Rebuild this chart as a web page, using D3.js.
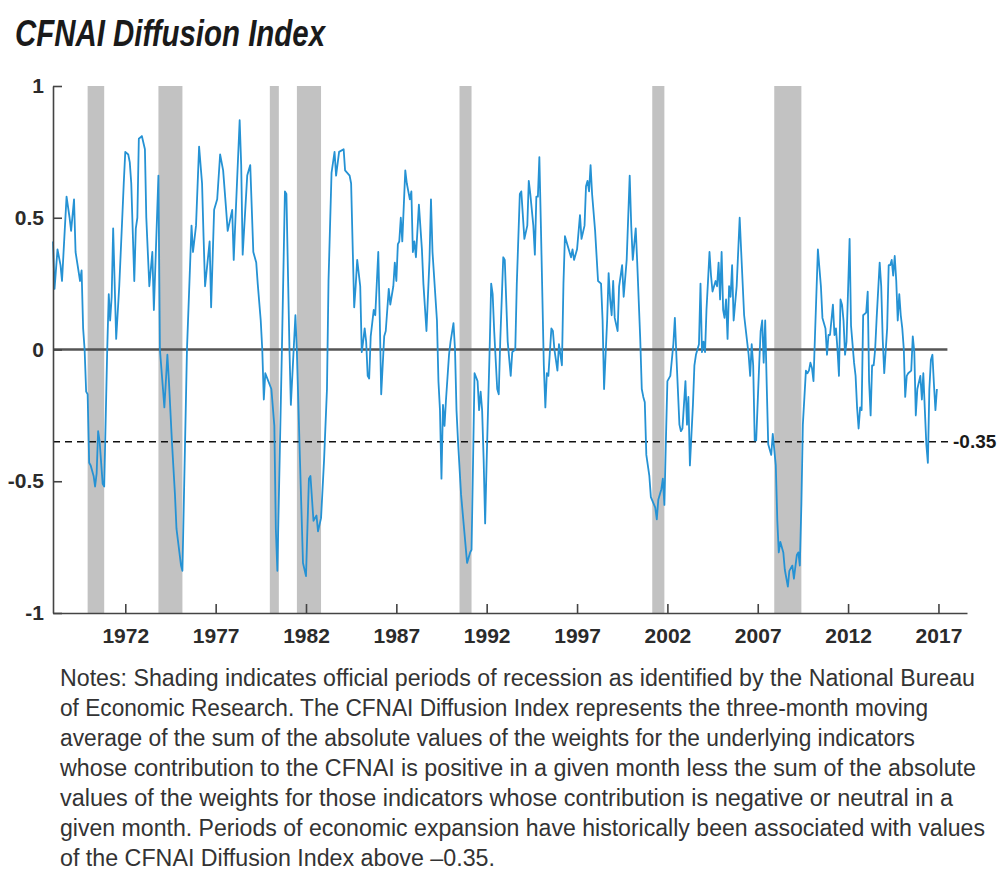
<!DOCTYPE html>
<html>
<head>
<meta charset="utf-8">
<script src="https://cdn.jsdelivr.net/npm/d3@7"></script>
<style>
  body { margin: 0; background: #fff; }
  svg { display: block; }
  .tick text { font-family: "Liberation Sans", Arial, sans-serif; font-weight: bold; font-size: 21px; fill: #2b2b2b; }
</style>
</head>
<body>
<div id="chart"></div>
<script>
// monthly readings of the diffusion index
var months = [
  "1968-01","1968-02","1968-04","1968-06","1968-07","1968-10","1968-12","1969-01","1969-03","1969-04",
  "1969-07","1969-08","1969-09","1969-10","1969-11","1969-12","1970-01","1970-02","1970-04","1970-05",
  "1970-06","1970-07","1970-08","1970-10","1970-11","1971-01","1971-02","1971-03","1971-04","1971-05",
  "1971-07","1971-09","1971-11","1971-12","1972-01","1972-03","1972-04","1972-05","1972-07","1972-08",
  "1972-09","1972-10","1972-12","1973-02","1973-03","1973-05","1973-07","1973-08","1973-11","1973-12",
  "1974-02","1974-03","1974-05","1974-06","1974-08","1974-10","1974-11","1975-02","1975-03","1975-06",
  "1975-09","1975-10","1975-12","1976-02","1976-04","1976-05","1976-06","1976-09","1976-10","1976-12",
  "1977-02","1977-04","1977-06","1977-08","1977-09","1977-12","1978-01","1978-05","1978-06","1978-07",
  "1978-10","1978-12","1979-02","1979-04","1979-05","1979-07","1979-08","1979-09","1979-10","1979-12",
  "1980-02","1980-04","1980-05","1980-06","1980-09","1980-11","1980-12","1981-02","1981-03","1981-06",
  "1981-07","1981-09","1981-11","1982-01","1982-03","1982-04","1982-06","1982-08","1982-09","1982-11",
  "1983-01","1983-03","1983-04","1983-06","1983-08","1983-09","1983-11","1984-02","1984-03","1984-06",
  "1984-07","1984-09","1984-10","1984-11","1985-01","1985-02","1985-03","1985-04","1985-05","1985-06",
  "1985-07","1985-08","1985-10","1985-11","1986-01","1986-02","1986-03","1986-05","1986-06","1986-08",
  "1986-09","1986-11","1986-12","1987-01","1987-02","1987-03","1987-04","1987-05","1987-07","1987-08",
  "1987-10","1987-11","1987-12","1988-01","1988-02","1988-04","1988-06","1988-07","1988-09","1988-11",
  "1988-12","1989-01","1989-04","1989-05","1989-06","1989-07","1989-08","1989-09","1989-10","1989-12",
  "1990-01","1990-03","1990-04","1990-05","1990-06","1990-08","1990-10","1990-12","1991-02","1991-03",
  "1991-04","1991-05","1991-07","1991-08","1991-09","1991-10","1991-11","1991-12","1992-01","1992-03",
  "1992-04","1992-05","1992-06","1992-08","1992-09","1992-10","1992-12","1993-01","1993-03","1993-05",
  "1993-06","1993-08","1993-09","1993-11","1993-12","1994-02","1994-04","1994-05","1994-06","1994-08",
  "1994-09","1994-10","1994-11","1994-12","1995-01","1995-03","1995-04","1995-05","1995-06","1995-08",
  "1995-09","1995-10","1995-11","1995-12","1996-01","1996-03","1996-04","1996-05","1996-07","1996-09",
  "1996-10","1996-11","1997-01","1997-03","1997-04","1997-06","1997-07","1997-08","1997-09","1997-10",
  "1997-11","1998-01","1998-03","1998-05","1998-06","1998-07","1998-09","1998-10","1998-11","1998-12",
  "1999-01","1999-02","1999-04","1999-05","1999-07","1999-08","1999-10","1999-12","2000-01","2000-02",
  "2000-04","2000-05","2000-07","2000-08","2000-09","2000-10","2000-11","2001-01","2001-02","2001-05",
  "2001-06","2001-07","2001-09","2001-10","2001-11","2001-12","2002-01","2002-03","2002-05","2002-06",
  "2002-07","2002-09","2002-10","2002-11","2003-01","2003-02","2003-03","2003-04","2003-06","2003-07",
  "2003-08","2003-10","2003-11","2003-12","2004-01","2004-02","2004-03","2004-04","2004-05","2004-06",
  "2004-07","2004-09","2004-10","2004-11","2004-12","2005-01","2005-02","2005-03","2005-04","2005-05",
  "2005-06","2005-07","2005-08","2005-09","2005-11","2006-01","2006-02","2006-04","2006-05","2006-07",
  "2006-08","2006-09","2006-10","2006-11","2006-12","2007-02","2007-03","2007-04","2007-05","2007-06",
  "2007-07","2007-08","2007-10","2007-11","2008-01","2008-02","2008-03","2008-04","2008-06","2008-07",
  "2008-09","2008-10","2008-12","2009-01","2009-03","2009-04","2009-05","2009-06","2009-07","2009-09",
  "2009-10","2009-11","2009-12","2010-01","2010-02","2010-03","2010-05","2010-07","2010-08","2010-10",
  "2010-11","2010-12","2011-01","2011-03","2011-04","2011-05","2011-06","2011-07","2011-08","2011-09",
  "2011-10","2011-11","2011-12","2012-02","2012-03","2012-05","2012-06","2012-07","2012-08","2012-09",
  "2012-10","2012-11","2013-01","2013-02","2013-03","2013-04","2013-05","2013-06","2013-07","2013-08",
  "2013-10","2013-11","2013-12","2014-01","2014-03","2014-04","2014-05","2014-06","2014-07","2014-08",
  "2014-09","2014-10","2014-11","2014-12","2015-01","2015-02","2015-03","2015-04","2015-05","2015-07",
  "2015-08","2015-09","2015-10","2015-11","2016-01","2016-02","2016-03","2016-04","2016-05","2016-06",
  "2016-07","2016-08","2016-09","2016-10","2016-11","2016-12"
];
var values = [
  0.41,0.23,0.38,0.32,0.26,0.58,0.50,0.45,0.57,0.37,
  0.26,0.30,0.08,0.00,-0.16,-0.17,-0.43,-0.44,-0.48,-0.52,
  -0.47,-0.31,-0.35,-0.51,-0.52,0.00,0.21,0.11,0.20,0.46,
  0.04,0.24,0.50,0.63,0.75,0.74,0.71,0.63,0.26,0.46,
  0.50,0.80,0.81,0.76,0.50,0.24,0.37,0.15,0.66,0.00,
  -0.15,-0.22,-0.02,-0.12,-0.35,-0.55,-0.68,-0.82,-0.84,0.00,
  0.47,0.37,0.47,0.77,0.63,0.43,0.24,0.41,0.16,0.53,
  0.57,0.74,0.68,0.53,0.45,0.53,0.34,0.87,0.70,0.36,
  0.66,0.70,0.37,0.33,0.25,0.11,0.00,-0.19,-0.09,-0.12,
  -0.15,-0.29,-0.68,-0.84,0.00,0.60,0.59,0.00,-0.21,0.13,
  -0.01,-0.42,-0.81,-0.86,-0.49,-0.48,-0.65,-0.63,-0.69,-0.64,
  -0.42,-0.15,0.26,0.67,0.75,0.66,0.75,0.76,0.68,0.66,
  0.63,0.16,0.24,0.34,0.24,-0.01,0.03,0.08,0.03,-0.10,
  -0.11,0.05,0.15,0.13,0.37,0.11,-0.17,0.05,0.07,0.23,
  0.17,0.24,0.33,0.26,0.40,0.41,0.50,0.41,0.68,0.63,
  0.57,0.60,0.37,0.41,0.35,0.55,0.38,0.25,0.07,0.34,
  0.57,0.37,0.11,-0.12,-0.23,-0.49,-0.21,-0.29,-0.19,-0.02,
  0.03,0.10,0.00,-0.23,-0.35,-0.55,-0.68,-0.81,-0.77,-0.76,
  -0.42,-0.09,-0.12,-0.23,-0.16,-0.23,-0.42,-0.66,-0.42,0.00,
  0.25,0.21,0.07,-0.15,-0.17,0.03,0.35,0.34,0.03,-0.10,
  -0.01,0.00,0.25,0.59,0.60,0.42,0.47,0.64,0.59,0.47,
  0.36,0.58,0.58,0.73,0.47,-0.06,-0.22,-0.09,-0.10,0.08,
  0.07,0.00,-0.04,-0.08,0.02,-0.06,0.25,0.43,0.39,0.35,
  0.38,0.34,0.38,0.51,0.42,0.47,0.62,0.64,0.60,0.70,
  0.59,0.45,0.26,0.25,0.11,-0.15,0.11,0.29,0.19,0.13,
  0.26,0.12,0.07,0.24,0.32,0.20,0.34,0.66,0.47,0.34,
  0.46,0.33,0.04,-0.15,-0.18,-0.20,-0.40,-0.48,-0.56,-0.60,
  -0.645,-0.57,-0.53,-0.49,-0.59,-0.35,-0.12,-0.10,0.02,0.12,
  -0.02,-0.285,-0.31,-0.30,-0.12,-0.285,-0.18,-0.44,-0.21,-0.06,
  -0.02,0.02,0.25,-0.01,0.03,-0.01,0.15,0.26,0.37,0.28,
  0.22,0.26,0.24,0.33,0.19,0.37,0.15,0.12,0.19,0.04,
  0.24,0.20,0.32,0.11,0.24,0.50,0.37,0.13,0.08,-0.02,
  -0.10,0.02,-0.06,-0.345,-0.345,-0.05,0.07,0.11,-0.05,0.11,
  -0.13,-0.36,-0.40,-0.32,-0.44,-0.65,-0.77,-0.73,-0.77,-0.835,
  -0.90,-0.84,-0.82,-0.87,-0.78,-0.77,-0.82,-0.59,-0.285,-0.08,
  -0.09,-0.08,-0.05,-0.07,-0.12,0.04,0.38,0.24,0.12,0.08,
  -0.02,0.055,0.055,0.17,0.055,0.08,0.00,-0.10,0.19,0.17,
  0.11,-0.02,0.03,0.42,0.09,-0.05,-0.10,-0.22,-0.30,-0.22,
  -0.23,0.13,0.14,0.22,-0.12,-0.25,-0.06,-0.06,0.00,0.12,
  0.33,0.24,0.04,-0.09,0.08,0.32,0.32,0.34,0.28,0.355,
  0.26,0.11,0.21,0.13,0.08,0.00,-0.18,-0.10,-0.09,-0.08,
  0.05,-0.01,-0.25,-0.15,-0.10,-0.19,-0.09,-0.23,-0.36,-0.43,
  -0.15,-0.04,-0.02,-0.13,-0.23,-0.15
];

// NBER recessions (start month, end month)
var recessionStart = ["1969-12","1973-11","1980-01","1981-07","1990-07","2001-03","2007-12"];
var recessionEnd   = ["1970-11","1975-03","1980-07","1982-11","1991-03","2001-11","2009-06"];

var yearTicks = [1972, 1977, 1982, 1987, 1992, 1997, 2002, 2007, 2012, 2017];
var valueTicks = [-1, -0.5, 0, 0.5, 1];
var threshold = -0.35;

var title = "CFNAI Diffusion Index";
var notes = [
  "Notes: Shading indicates official periods of recession as identified by the National Bureau",
  "of Economic Research. The CFNAI Diffusion Index represents the three-month moving",
  "average of the sum of the absolute values of the weights for the underlying indicators",
  "whose contribution to the CFNAI is positive in a given month less the sum of the absolute",
  "values of the weights for those indicators whose contribution is negative or neutral in a",
  "given month. Periods of economic expansion have historically been associated with values",
  "of the CFNAI Diffusion Index above \u20130.35."
];
var notesWidth = [915, 868, 855, 916, 893, 925, 435];

var parseMonth = d3.timeParse("%Y-%m");
var data = months.map(function(m, i) { return {date: parseMonth(m), value: values[i]}; });

var svg = d3.select("#chart").append("svg")
    .attr("width", 1001)
    .attr("height", 887);

// scales
var x = d3.scaleTime()
    .domain([new Date(1968, 0, 1), new Date(2018, 7, 1)])
    .range([53, 967]);
var y = d3.scaleLinear().domain([-1, 1]).range([613, 86]);

// title
svg.append("text")
    .attr("x", 15)
    .attr("y", 46)
    .attr("textLength", 310)
    .attr("lengthAdjust", "spacingAndGlyphs")
    .style("font-family", "'Liberation Sans', Arial, sans-serif")
    .style("font-weight", "bold")
    .style("font-style", "italic")
    .style("font-size", "36px")
    .style("fill", "#1a1a1a")
    .text(title);

// recession shading
svg.append("g").selectAll("rect")
    .data(recessionStart)
    .enter().append("rect")
    .attr("x", function(d) { return x(parseMonth(d)); })
    .attr("width", function(d, i) { return x(parseMonth(recessionEnd[i])) - x(parseMonth(d)); })
    .attr("y", y(1))
    .attr("height", y(-1) - y(1))
    .attr("fill", "#c2c2c2");

// zero line
svg.append("line")
    .attr("x1", x(new Date(1968, 0, 1))).attr("x2", x(new Date(2017, 6, 1)))
    .attr("y1", y(0)).attr("y2", y(0))
    .attr("stroke", "#555").attr("stroke-width", 2.5);

// threshold line
svg.append("line")
    .attr("x1", x(new Date(1968, 0, 1))).attr("x2", x(new Date(2017, 9, 1)))
    .attr("y1", y(threshold)).attr("y2", y(threshold))
    .attr("stroke", "#111").attr("stroke-width", 1.6)
    .attr("stroke-dasharray", "7,5");

svg.append("text")
    .attr("x", 953)
    .attr("y", y(threshold))
    .attr("dy", "0.35em")
    .style("font-family", "'Liberation Sans', Arial, sans-serif")
    .style("font-weight", "bold")
    .style("font-size", "19px")
    .style("fill", "#1a1a1a")
    .text(threshold.toFixed(2));

// the index
var valueline = d3.line()
    .x(function(d) { return x(d.date); })
    .y(function(d) { return y(d.value); });

svg.append("path")
    .datum(data)
    .attr("fill", "none")
    .attr("stroke", "#2592d4")
    .attr("stroke-width", 1.8)
    .attr("stroke-linejoin", "round")
    .attr("d", valueline);

// axes
var yAxis = svg.append("g")
    .attr("transform", "translate(" + x(new Date(1968, 0, 1)) + ",0)")
    .call(d3.axisLeft(y)
        .tickValues(valueTicks)
        .tickFormat(function(d) { return String(d); })
        .tickSizeInner(-9)
        .tickSizeOuter(0)
        .tickPadding(9));

var xAxis = svg.append("g")
    .attr("transform", "translate(0," + y(-1) + ")")
    .call(d3.axisBottom(x)
        .tickValues(yearTicks.map(function(yr) { return new Date(yr, 0, 1); }))
        .tickFormat(d3.timeFormat("%Y"))
        .tickSizeInner(-9)
        .tickSizeOuter(0)
        .tickPadding(15));

[yAxis, xAxis].forEach(function(g) {
    g.select(".domain").attr("stroke", "#444").attr("stroke-width", 1.6);
    g.selectAll(".tick line").attr("stroke", "#444").attr("stroke-width", 1.6);
});

// notes
svg.append("g").selectAll("text")
    .data(notes)
    .enter().append("text")
    .attr("x", 60)
    .attr("y", function(d, i) { return 686 + i * 30; })
    .attr("textLength", function(d, i) { return notesWidth[i]; })
    .attr("lengthAdjust", "spacingAndGlyphs")
    .style("font-family", "'Liberation Sans Narrow', 'Arial Narrow', 'Liberation Sans', sans-serif")
    .style("font-size", "23px")
    .style("fill", "#333")
    .text(function(d) { return d; });
</script>
</body>
</html>
